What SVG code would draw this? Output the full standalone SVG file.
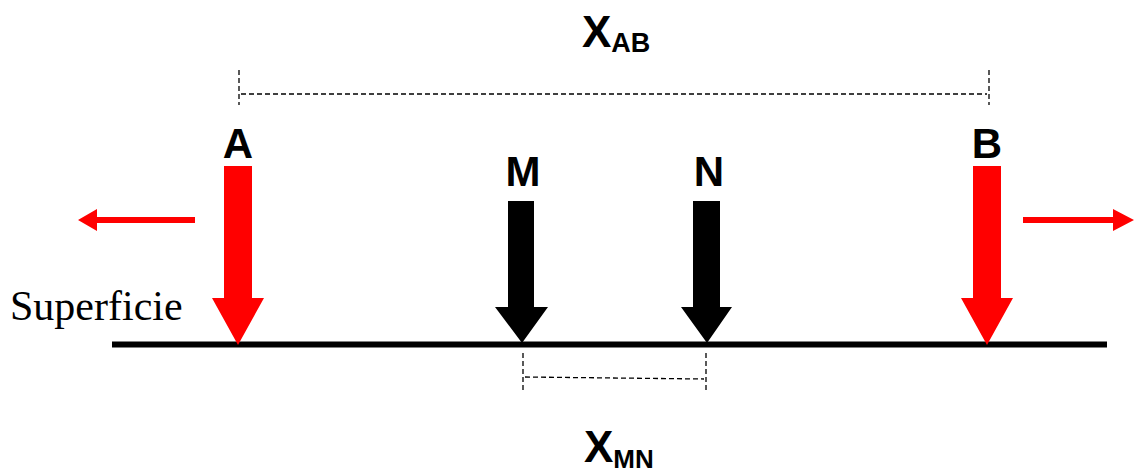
<svg xmlns="http://www.w3.org/2000/svg" width="1134" height="475" viewBox="0 0 1134 475">
<style>
.lbl{font-family:"Liberation Sans",Arial,sans-serif;font-weight:bold;fill:#000}
.dash{stroke:#000;stroke-width:1.3;stroke-dasharray:5,3;fill:none}
.red{fill:#ff0000}
.blk{fill:#000}
</style>
<rect width="1134" height="475" fill="#fff"/>
<g id="connectors">
<line x1="112" y1="344.5" x2="1107" y2="344.5" stroke="#000" stroke-width="6"/>
<line class="dash" x1="239" y1="70" x2="239" y2="105"/>
<line class="dash" x1="989" y1="70" x2="989" y2="105"/>
<line class="dash" x1="241" y1="94" x2="987" y2="94"/>
<line class="dash" x1="523" y1="353" x2="523" y2="390"/>
<line class="dash" x1="706" y1="353" x2="706" y2="390"/>
<line class="dash" x1="525" y1="377" x2="704" y2="379"/>
<path class="red" d="M195,217 L97,217 L97,209 L78,220 L97,231 L97,223 L195,223 Z"/>
<path class="red" d="M1023,217 L1113,217 L1113,209 L1134,220 L1113,231 L1113,223 L1023,223 Z"/>
</g>
<g id="nodeA">
<path class="red" d="M224,166 L252,166 L252,298 L264,298 L238,345 L212,298 L224,298 Z"/>
<text class="lbl" x="238" y="158" font-size="42" text-anchor="middle">A</text>
</g>
<g id="nodeB">
<path class="red" d="M973,166 L1001,166 L1001,298 L1013,298 L987,345 L961,298 L973,298 Z"/>
<text class="lbl" x="987" y="158" font-size="42" text-anchor="middle">B</text>
</g>
<g id="nodeM">
<path class="blk" d="M508,201 L534,201 L534,307 L548,307 L522,343 L495,307 L508,307 Z"/>
<text class="lbl" x="523" y="186" font-size="42" text-anchor="middle">M</text>
</g>
<g id="nodeN">
<path class="blk" d="M693,201 L720,201 L720,307 L732,307 L707,343 L681,307 L693,307 Z"/>
<text class="lbl" x="709" y="186" font-size="42" text-anchor="middle">N</text>
</g>
<g id="labelXAB">
<text class="lbl" x="582" y="47" font-size="44">X<tspan font-size="27" dy="5">AB</tspan></text>
</g>
<g id="labelXMN">
<text class="lbl" x="584" y="462" font-size="44">X<tspan font-size="26" dy="6">MN</tspan></text>
</g>
<g id="labelSuperficie">
<text x="10" y="320" font-family="'Liberation Serif','Times New Roman',serif" font-size="42" fill="#000">Superficie</text>
</g>
</svg>
